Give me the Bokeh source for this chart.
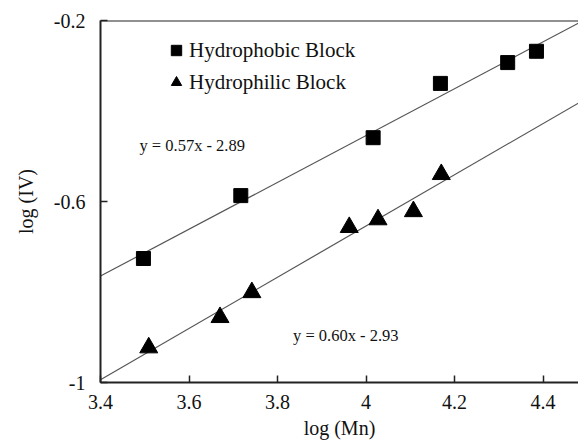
import numpy as np
from bokeh.plotting import figure
from bokeh.models import (Range1d, FixedTicker, Label, Legend, LegendItem, Span)
from bokeh.embed import file_html
from bokeh.resources import INLINE

# Data
phobic_x = [3.497, 3.717, 4.016, 4.168, 4.320, 4.385]
phobic_y = [-0.726, -0.587, -0.459, -0.339, -0.293, -0.268]
philic_x = [3.509, 3.670, 3.742, 3.962, 4.027, 4.107, 4.170]
philic_y = [-0.923, -0.856, -0.801, -0.657, -0.640, -0.622, -0.540]
x_ticks = [3.4, 3.6, 3.8, 4.0, 4.2, 4.4]
x_tick_labels = ["3.4", "3.6", "3.8", "4", "4.2", "4.4"]
y_ticks = [-1.0, -0.6, -0.2]
y_tick_labels = ["-1", "-0.6", "-0.2"]
eq_phobic = "y = 0.57x - 2.89"
eq_philic = "y = 0.60x - 2.93"
series_names = ["Hydrophobic Block", "Hydrophilic Block"]

FONT = "Liberation Serif"
X0, X1 = 3.4, 4.48

p = figure(width=578, height=443, output_backend="svg", toolbar_location=None,
           x_range=Range1d(X0, X1), y_range=Range1d(-1.0, -0.2),
           min_border_left=100, min_border_right=0, min_border_top=20,
           min_border_bottom=61)
p.outline_line_color = None
p.grid.grid_line_color = None
p.background_fill_color = "white"
p.border_fill_color = "white"

for ax in (p.xaxis[0], p.yaxis[0]):
    ax.axis_line_color = "#222222"
    ax.axis_line_width = 2
    ax.major_tick_line_color = "#222222"
    ax.major_tick_line_width = 1.5
    ax.major_tick_in = 7
    ax.major_tick_out = 0
    ax.minor_tick_line_color = None
    ax.major_label_text_font = FONT
    ax.major_label_text_font_size = "20px"
    ax.major_label_text_color = "#111111"
    ax.axis_label_text_font = FONT
    ax.axis_label_text_font_size = "20px"
    ax.axis_label_text_font_style = "normal"
    ax.axis_label_text_color = "#111111"

p.xaxis.ticker = FixedTicker(ticks=x_ticks)
p.xaxis.major_label_overrides = {t: l for t, l in zip(x_ticks, x_tick_labels)}
p.yaxis.ticker = FixedTicker(ticks=y_ticks)
p.yaxis.major_label_overrides = {t: l for t, l in zip(y_ticks, y_tick_labels)}
p.xaxis.axis_label = "log (Mn)"
p.yaxis.axis_label = "log (IV)"
p.xaxis.major_label_standoff = 12
p.yaxis.major_label_standoff = 15
p.xaxis.axis_label_standoff = 5
p.yaxis.axis_label_standoff = 14

p.add_layout(Span(location=-0.2, dimension="width", line_color="#222222", line_width=2))

# fitted lines
xs = np.array([X0, X1])
for xv, yv in ((phobic_x, phobic_y), (philic_x, philic_y)):
    m, b = np.polyfit(xv, yv, 1)
    p.line(xs, m * xs + b, line_color="#555555", line_width=1.2)

r1 = p.scatter(phobic_x, phobic_y, marker="square", size=14, fill_color="black", line_color="black")
r2 = p.scatter(philic_x, philic_y, marker="triangle", size=18, fill_color="black", line_color="black")

legend = Legend(items=[LegendItem(label=series_names[0], renderers=[r1]),
                       LegendItem(label=series_names[1], renderers=[r2])],
                location=(63, 287), padding=0, margin=0, spacing=6,
                glyph_width=26, glyph_height=26, label_standoff=0,
                label_text_font=FONT, label_text_font_size="21px",
                label_text_color="#111111", border_line_color=None,
                background_fill_alpha=0)
p.add_layout(legend)

p.add_layout(Label(x=3.488, y=-0.476, text=eq_phobic, text_font=FONT,
                   text_font_size="16.5px", text_baseline="middle", text_color="#111111"))
p.add_layout(Label(x=3.835, y=-0.896, text=eq_philic, text_font=FONT,
                   text_font_size="16.5px", text_baseline="middle", text_color="#111111"))

open("out.html", "w").write(file_html(p, INLINE))
